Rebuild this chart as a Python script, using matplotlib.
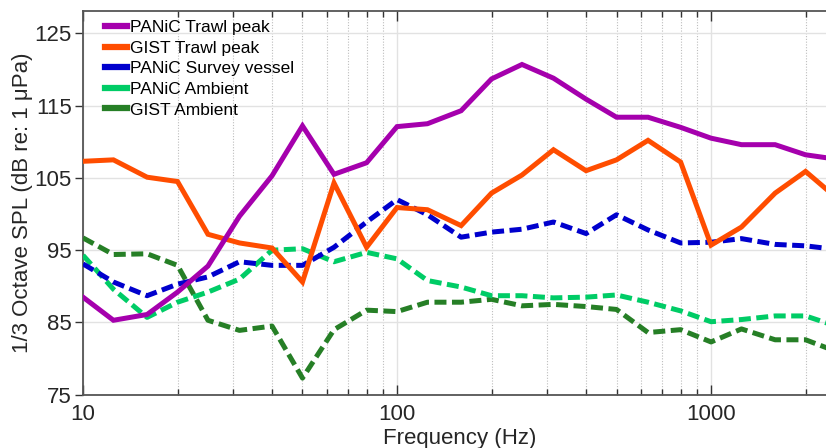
import matplotlib
matplotlib.use("Agg")
import matplotlib.pyplot as plt
from matplotlib.lines import Line2D
from matplotlib.ticker import LogLocator, NullFormatter, FixedLocator, FixedFormatter

plt.rcParams['font.family'] = ['Liberation Sans', 'DejaVu Sans']

# 1/3-octave band centre frequencies (Hz)
freq = [10, 12.5, 16, 20, 25, 31.5, 40, 50, 63, 80, 100, 125, 160, 200, 250,
        315, 400, 500, 630, 800, 1000, 1250, 1600, 2000, 2500]

panic_trawl = [88.5, 85.3, 86.1, 89.2, 92.8, 99.7, 105.3, 112.2, 105.5, 107.1,
               112.1, 112.5, 114.3, 118.7, 120.7, 118.8, 115.9, 113.4, 113.4,
               112.0, 110.5, 109.6, 109.6, 108.2, 107.6]
gist_trawl = [107.3, 107.5, 105.1, 104.5, 97.2, 96.0, 95.3, 90.6, 104.3, 95.4,
              100.9, 100.6, 98.4, 102.9, 105.4, 108.9, 106.0, 107.5, 110.2,
              107.2, 95.7, 98.2, 102.9, 105.9, 102.3]
panic_survey = [93.1, 90.6, 88.7, 90.3, 91.3, 93.4, 92.9, 92.9, 95.4, 98.9,
                102.0, 99.9, 96.8, 97.5, 97.9, 98.9, 97.3, 99.9, 97.8, 96.0,
                96.1, 96.6, 95.8, 95.6, 95.1]
panic_ambient = [94.3, 89.6, 85.7, 87.8, 89.2, 91.0, 95.0, 95.2, 93.4, 94.7,
                 93.8, 90.8, 89.9, 88.7, 88.7, 88.4, 88.5, 88.8, 87.8, 86.6,
                 85.1, 85.4, 85.9, 85.9, 84.5]
gist_ambient = [96.7, 94.4, 94.5, 92.9, 85.3, 83.9, 84.5, 77.3, 84.0, 86.7,
                86.5, 87.8, 87.8, 88.2, 87.3, 87.5, 87.2, 86.8, 83.6, 84.0,
                82.3, 84.1, 82.6, 82.6, 81.0]

labels = ["PANiC Trawl peak", "GIST Trawl peak", "PANiC Survey vessel",
          "PANiC Ambient", "GIST Ambient"]
colors = ["#A500AD", "#FF4D00", "#0000CD", "#00CC66", "#267F26"]
styles = ["solid", "solid", "dashed", "dashed", "dashed"]
series = [panic_trawl, gist_trawl, panic_survey, panic_ambient, gist_ambient]

yticks = [75, 85, 95, 105, 115, 125]
xticks = [10, 100, 1000]
xticklabels = ["10", "100", "1000"]

fig = plt.figure(figsize=(8.26, 4.48), dpi=100)
# axes runs on to 2500 Hz, a little past the right edge of the canvas
ax = fig.add_axes([83 / 826, 1 - 394.7 / 448, (836 - 83) / 826, (394.7 - 11) / 448])

lw = 3.6
for vals, col, st in zip(series[::-1], colors[::-1], styles[::-1]):
    if st == "dashed":
        ax.plot(freq, vals, color=col, lw=lw, dashes=(2.4, 1.1),
                solid_capstyle="butt", dash_capstyle="butt", zorder=3)
    else:
        ax.plot(freq, vals, color=col, lw=lw, solid_joinstyle="miter",
                zorder=3)

ax.set_xscale("log")
ax.set_xlim(10, 2500)
ax.set_ylim(75, 128.1)
ax.set_yticks(yticks)
ax.xaxis.set_major_locator(FixedLocator(xticks))
ax.xaxis.set_major_formatter(FixedFormatter(xticklabels))
ax.xaxis.set_minor_locator(LogLocator(base=10, subs=range(2, 10)))
ax.xaxis.set_minor_formatter(NullFormatter())

ax.grid(True, which="major", axis="y", color="#e2e2e2", lw=1.0, zorder=0)
ax.grid(True, which="major", axis="x", color="#e2e2e2", lw=1.0, zorder=0)
ax.grid(True, which="minor", axis="x", color="#bdbdbd", lw=0.8,
        linestyle=(0, (1, 1.5)), zorder=0)

for side in ["left", "bottom", "top"]:
    ax.spines[side].set_color("#555555")
    ax.spines[side].set_linewidth(1.3)
ax.spines["right"].set_visible(False)

ax.tick_params(axis="x", which="both", direction="in", top=True, bottom=True,
               colors="#333333", labelcolor="#262626", labelsize=16, pad=7)
ax.tick_params(axis="x", which="major", length=7, width=1.0)
ax.tick_params(axis="x", which="minor", length=4, width=1.0)
ax.tick_params(axis="y", which="major", direction="out", length=6, width=1.0,
               colors="#333333", labelcolor="#262626", labelsize=16, pad=2)

ax.set_xlabel("Frequency (Hz)", fontsize=16, color="#262626", labelpad=2)
ax.set_ylabel("1/3 Octave SPL (dB re: 1 μPa)", fontsize=16, color="#262626")
ax.yaxis.set_label_coords(-50 / 753, 0.5)

handles = [Line2D([0], [0], color=c, lw=4.5) for c in colors]
ax.legend(handles, labels, loc="upper left", bbox_to_anchor=(0.016, 1.003),
          frameon=False, fontsize=12.5, handlelength=1.25, handletextpad=0.15,
          labelspacing=0.31, borderaxespad=0.2)

fig.savefig("out.png", dpi=100)
